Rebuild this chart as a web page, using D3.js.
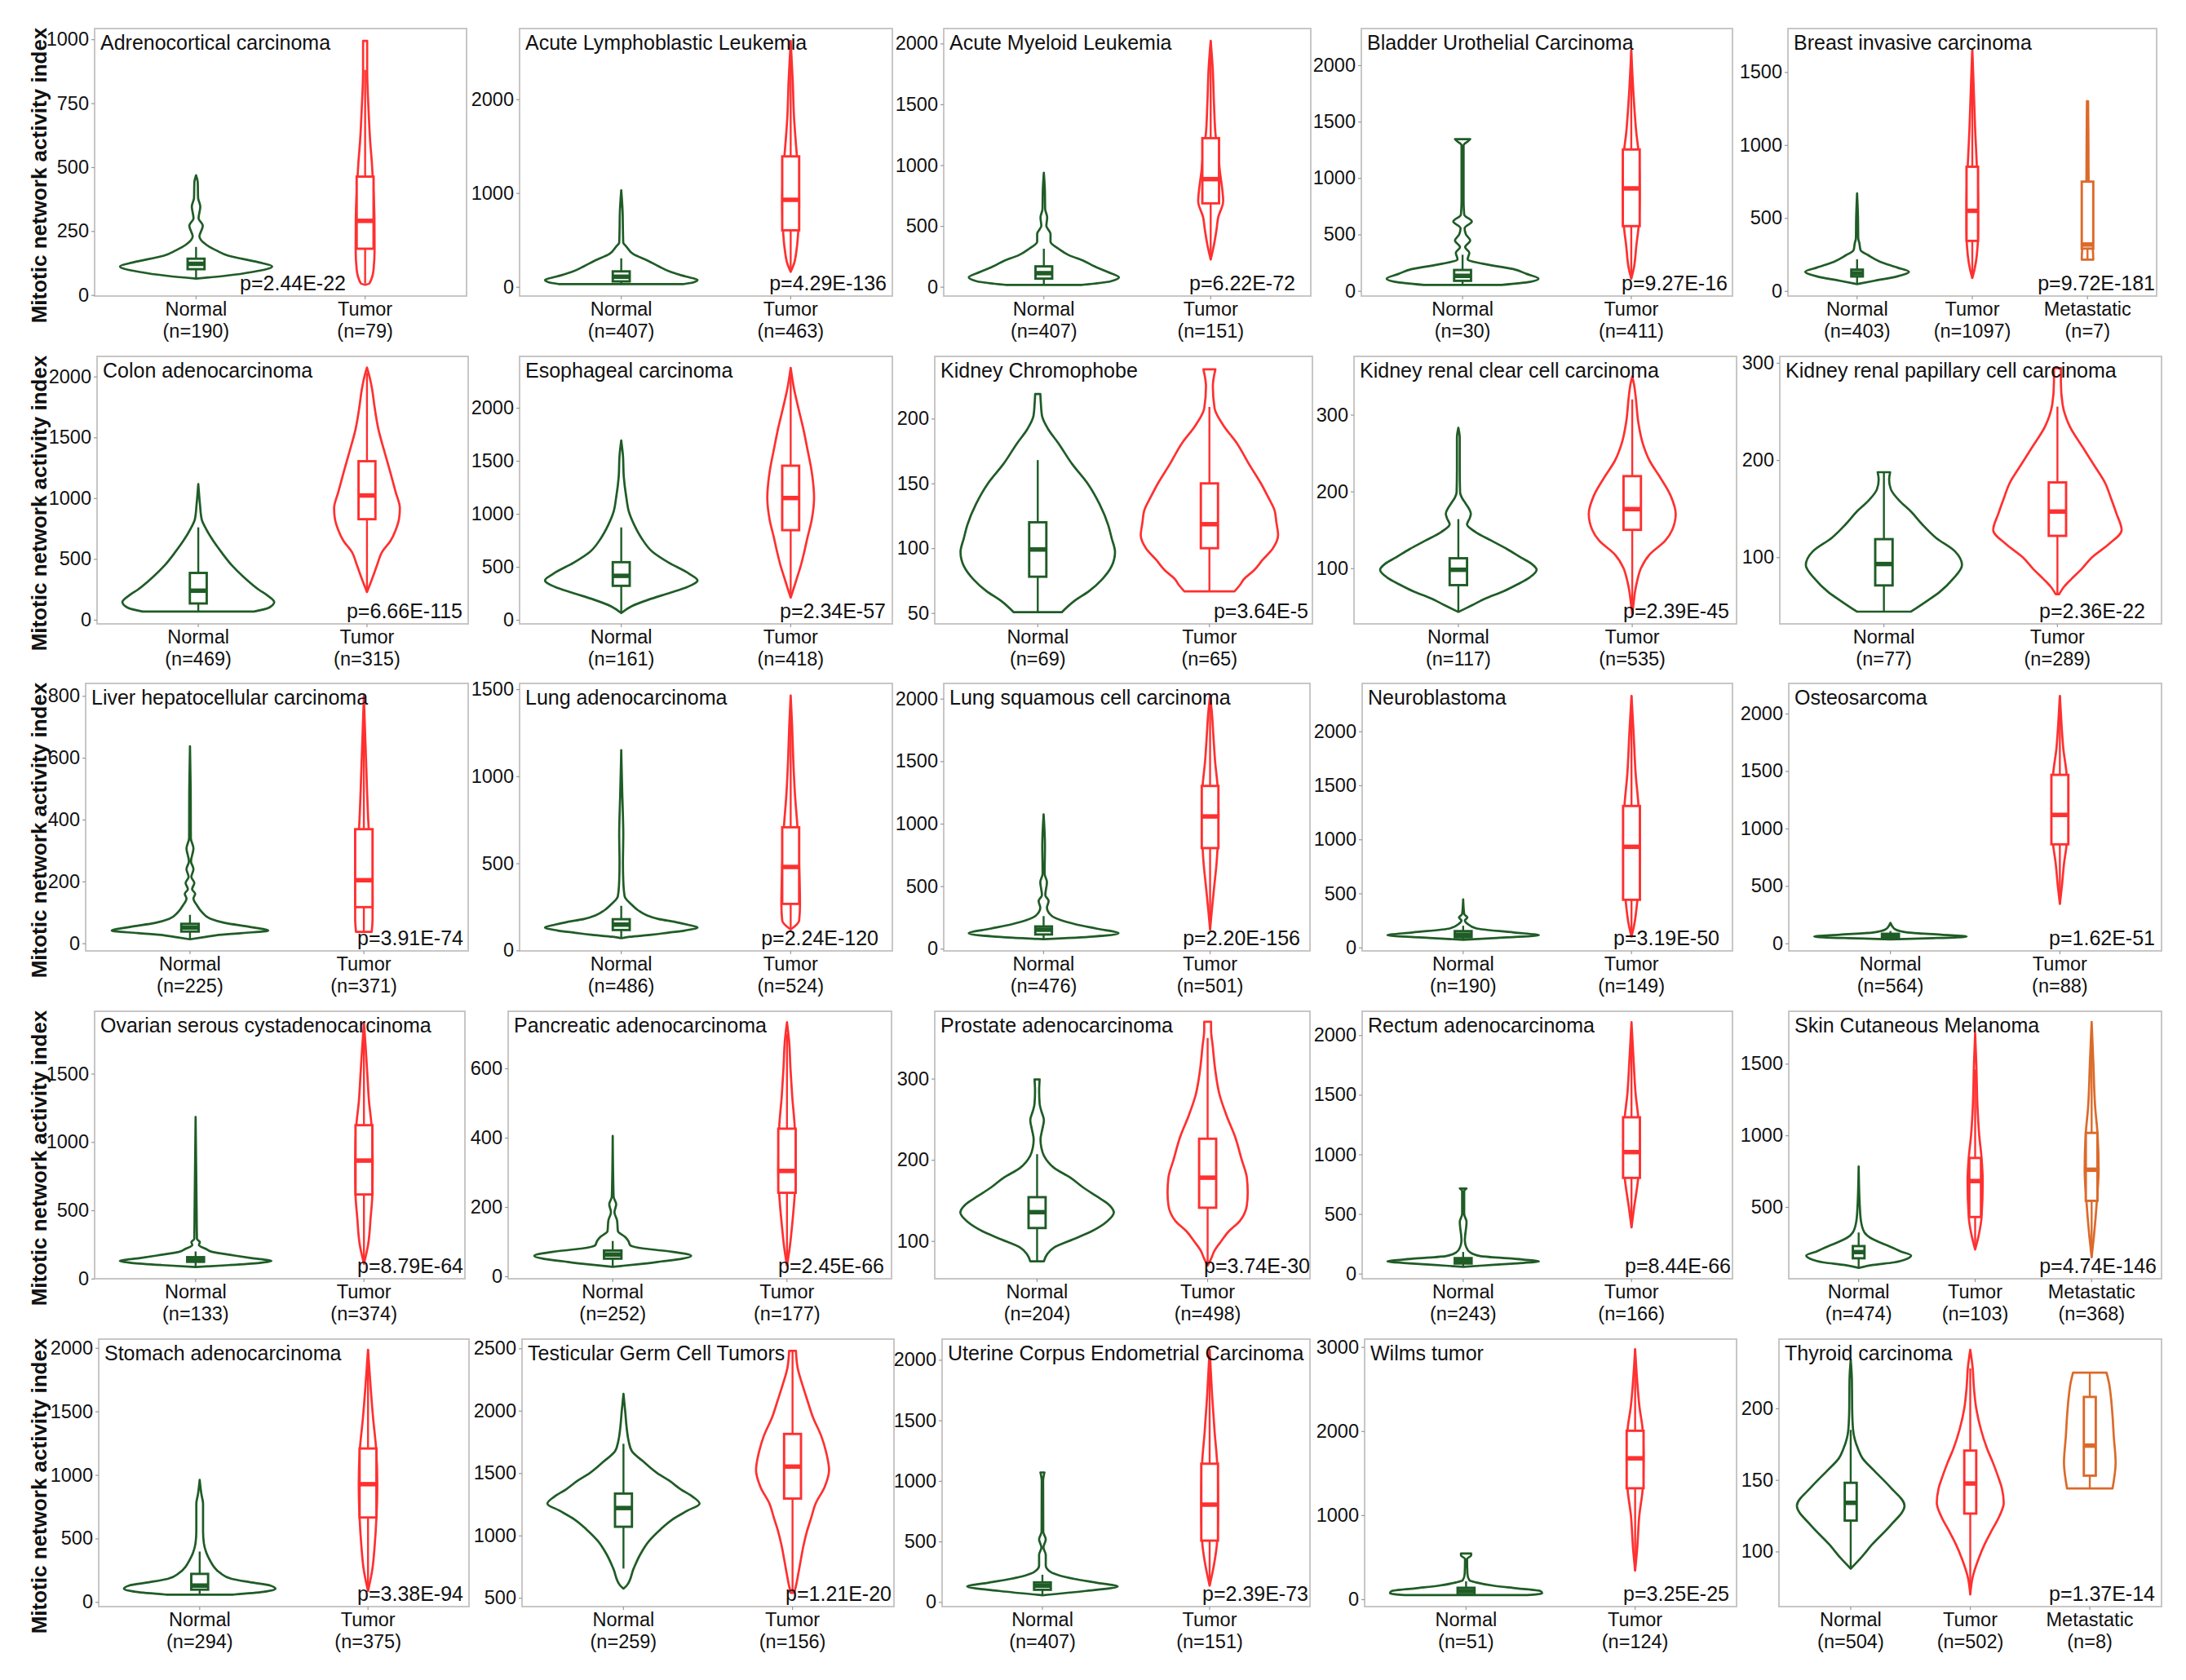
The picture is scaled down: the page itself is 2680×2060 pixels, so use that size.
<!DOCTYPE html>
<html><head><meta charset="utf-8">
<script src="https://cdn.jsdelivr.net/npm/d3@7"></script>
<style>body{margin:0;background:#fff}svg text{font-family:"Liberation Sans",Arial,sans-serif}</style>
</head><body>
<svg id="chart" width="2680" height="2060"></svg>
<script>
// ---------------- DATA ----------------
const panelTitles = [
  "Adrenocortical carcinoma","Acute Lymphoblastic Leukemia","Acute Myeloid Leukemia","Bladder Urothelial Carcinoma","Breast invasive carcinoma",
  "Colon adenocarcinoma","Esophageal carcinoma","Kidney Chromophobe","Kidney renal clear cell carcinoma","Kidney renal papillary cell carcinoma",
  "Liver hepatocellular carcinoma","Lung adenocarcinoma","Lung squamous cell carcinoma","Neuroblastoma","Osteosarcoma",
  "Ovarian serous cystadenocarcinoma","Pancreatic adenocarcinoma","Prostate adenocarcinoma","Rectum adenocarcinoma","Skin Cutaneous Melanoma",
  "Stomach adenocarcinoma","Testicular Germ Cell Tumors","Uterine Corpus Endometrial Carcinoma","Wilms tumor","Thyroid carcinoma"
];
const NT = ["Normal","Tumor"], NTM = ["Normal","Tumor","Metastatic"];
const groupNames = [NT,NT,NT,NT,NTM, NT,NT,NT,NT,NT, NT,NT,NT,NT,NT, NT,NT,NT,NT,NTM, NT,NT,NT,NT,NTM];
const groupSizes = [
  [190,79],[407,463],[407,151],[30,411],[403,1097,7],
  [469,315],[161,418],[69,65],[117,535],[77,289],
  [225,371],[486,524],[476,501],[190,149],[564,88],
  [133,374],[252,177],[204,498],[243,166],[474,103,368],
  [294,375],[259,156],[407,151],[51,124],[504,502,8]
];
const pValueLabels = [
  "p=2.44E-22","p=4.29E-136","p=6.22E-72","p=9.27E-16","p=9.72E-181",
  "p=6.66E-115","p=2.34E-57","p=3.64E-5","p=2.39E-45","p=2.36E-22",
  "p=3.91E-74","p=2.24E-120","p=2.20E-156","p=3.19E-50","p=1.62E-51",
  "p=8.79E-64","p=2.45E-66","p=3.74E-30","p=8.44E-66","p=4.74E-146",
  "p=3.38E-94","p=1.21E-20","p=2.39E-73","p=3.25E-25","p=1.37E-14"
];
const t5 = [0,500,1000,1500,2000];
const yTickValues = [
  [0,250,500,750,1000],[0,1000,2000],t5,t5,[0,500,1000,1500],
  t5,t5,[50,100,150,200],[100,200,300],[100,200,300],
  [0,200,400,600,800],[0,500,1000,1500],t5,t5,t5,
  [0,500,1000,1500],[0,200,400,600],[100,200,300],t5,[500,1000,1500],
  t5,[500,1000,1500,2000,2500],t5,[0,1000,2000,3000],[100,150,200]
];
const yAxisLimits = [
  [-4,1042],[-98,2754],[-76,2123],[-46,2325],[-35,1798],
  [-34,2166],[-38,2485],[41.6,248],[27.5,376],[31.4,306.7],
  [-24.6,840.4],[-3,1533],[-17.6,2122],[-32,2443],[-66,2263],
  [-1,1957],[-7,764.7],[53.5,383],[-43,2200],[-1,1866],
  [-36.5,2069],[430,2574],[-38,2171],[-87.6,3094],[61.5,248.4]
];
// violin outlines: [value, half-width in category units]
const violinProfiles = [
  [ [[64,0],[75,0.17],[91,0.34],[112,0.45],[128,0.37],[154,0.19],[175,0.118],[197,0.06],[229,0.02],[271,0.04],[300,0.015],[346,0.025],[380,0.012],[440,0.01],[468,0]],
    [[40,0],[45,0.025],[100,0.05],[180,0.056],[300,0.055],[460,0.045],[516,0.04],[600,0.03],[728,0.02],[880,0.012],[994,0.012]] ],
  [ [[30,0.37],[50,0.43],[73,0.45],[110,0.38],[160,0.29],[220,0.22],[276,0.16],[350,0.07],[430,0.03],[470,0.012],[600,0.01],[800,0.008],[1029,0]],
    [[160,0],[250,0.02],[400,0.035],[600,0.045],[900,0.05],[1200,0.045],[1500,0.032],[1800,0.02],[2200,0.012],[2623,0]] ],
  [ [[16,0.23],[45,0.4],[78,0.45],[123,0.38],[170,0.3],[213,0.24],[260,0.15],[313,0.088],[370,0.04],[436,0.04],[500,0.015],[570,0.02],[640,0.008],[800,0.006],[938,0]],
    [[224,0],[347,0.02],[470,0.035],[570,0.045],[704,0.075],[794,0.07],[950,0.055],[1100,0.045],[1240,0.03],[1500,0.02],[1800,0.012],[2021,0]] ],
  [ [[53,0.23],[80,0.4],[108,0.45],[150,0.38],[193,0.3],[240,0.12],[280,0.03],[337,0.04],[388,0.015],[446,0.045],[500,0.02],[555,0.012],[615,0.055],[675,0.01],[800,0.006],[1250,0.006],[1290,0.006],[1330,0.035],[1345,0.045]],
    [[108,0],[200,0.015],[400,0.03],[600,0.045],[900,0.05],[1200,0.045],[1400,0.03],[1700,0.015],[2133,0]] ],
  [ [[47,0],[70,0.15],[100,0.35],[131,0.45],[160,0.35],[200,0.2],[243,0.1],[280,0.03],[327,0.02],[360,0.01],[500,0.008],[668,0]],
    [[88,0],[150,0.02],[250,0.04],[400,0.05],[600,0.05],[850,0.04],[1100,0.025],[1400,0.012],[1659,0]],
    [[214,0.05],[300,0.045],[400,0.02],[700,0.01],[1000,0.008],[1300,0.005]] ],
  [ [[67,0.33],[100,0.42],[145,0.45],[200,0.41],[246,0.36],[350,0.27],[446,0.2],[550,0.14],[646,0.09],[750,0.045],[827,0.02],[950,0.01],[1116,0]],
    [[228,0],[335,0.03],[450,0.06],[559,0.09],[650,0.14],[738,0.17],[830,0.19],[916,0.195],[1050,0.17],[1230,0.135],[1400,0.1],[1565,0.068],[1750,0.045],[1900,0.03],[2000,0.015],[2074,0]] ],
  [ [[64,0],[128,0.06],[190,0.16],[256,0.29],[310,0.39],[372,0.45],[436,0.4],[540,0.28],[641,0.185],[770,0.12],[897,0.076],[1020,0.045],[1154,0.03],[1350,0.015],[1550,0.01],[1692,0]],
    [[210,0],[308,0.02],[410,0.04],[513,0.06],[640,0.08],[769,0.098],[950,0.125],[1154,0.138],[1300,0.132],[1408,0.123],[1600,0.1],[1792,0.076],[2000,0.045],[2177,0.02],[2377,0]] ],
  [ [[50.6,0.14],[59,0.21],[67,0.3],[76,0.375],[86,0.43],[97,0.45],[108,0.43],[118,0.41],[134,0.36],[150,0.29],[165,0.2],[181,0.12],[192,0.06],[202,0.025],[212,0.018],[219,0.015]],
    [[66.7,0.146],[72,0.18],[76,0.2],[83,0.26],[91,0.31],[100,0.37],[110,0.4],[120,0.39],[129,0.38],[140,0.34],[150,0.3],[165,0.23],[181,0.16],[195,0.08],[208,0.03],[225,0.02],[238,0.035]] ],
  [ [[43,0],[52,0.08],[61,0.16],[70,0.26],[79,0.34],[88,0.41],[98,0.45],[106,0.42],[114,0.36],[125,0.28],[136,0.19],[147,0.1],[157,0.05],[165,0.065],[171,0.072],[178,0.06],[185,0.04],[192,0.02],[199,0.01],[230,0.008],[270,0.008],[283,0]],
    [[40,0],[55,0.008],[68,0.015],[85,0.03],[100,0.05],[118,0.1],[136,0.19],[150,0.23],[171,0.25],[195,0.22],[220,0.156],[240,0.1],[263,0.06],[290,0.035],[323,0.02],[340,0.01],[350,0]] ],
  [ [[44,0.156],[54,0.24],[64,0.32],[78,0.4],[92,0.45],[106,0.41],[120,0.3],[134,0.22],[147,0.156],[158,0.09],[170,0.04],[180,0.03],[187.5,0.036]],
    [[62,0.01],[70,0.04],[77.5,0.08],[88,0.14],[100,0.2],[114,0.3],[128,0.37],[145,0.34],[160,0.31],[176,0.276],[195,0.21],[212,0.15],[235,0.07],[257,0.03],[280,0.02],[294.6,0.02]] ],
  [ [[13,0],[20,0.08],[26,0.15],[33,0.3],[41,0.45],[53,0.345],[66,0.2],[79,0.12],[100,0.07],[123,0.04],[145,0.02],[160,0.03],[175,0.012],[195,0.025],[215,0.008],[240,0.02],[265,0.006],[307,0.02],[340,0.005],[500,0.004],[637,0]],
    [[37,0.045],[80,0.05],[150,0.05],[250,0.04],[400,0.025],[600,0.012],[800,0]] ],
  [ [[70,0],[78,0.05],[90,0.18],[101,0.27],[115,0.38],[132,0.45],[148,0.39],[163,0.32],[180,0.22],[202,0.15],[230,0.1],[264,0.06],[311,0.02],[400,0.012],[500,0.01],[670,0.012],[770,0.01],[900,0.006],[1150,0]],
    [[120,0],[171,0.05],[267,0.055],[480,0.05],[707,0.04],[900,0.025],[1100,0.015],[1300,0.008],[1464,0]] ],
  [ [[76,0],[98,0.3],[124,0.45],[160,0.32],[196,0.19],[230,0.1],[261,0.05],[330,0.02],[380,0.03],[430,0.01],[533,0.02],[600,0.006],[820,0.008],[1075,0]],
    [[152,0],[300,0.01],[500,0.025],[700,0.04],[900,0.048],[1100,0.05],[1300,0.045],[1500,0.03],[1700,0.02],[1900,0.01],[2022,0]] ],
  [ [[71,0],[88,0.2],[113,0.45],[139,0.3],[176,0.08],[220,0.025],[250,0.01],[277,0.025],[310,0.006],[445,0]],
    [[101,0],[200,0.015],[441,0.035],[700,0.045],[931,0.048],[1300,0.042],[1600,0.025],[2000,0.012],[2328,0]] ],
  [ [[35,0],[45,0.25],[59,0.45],[75,0.3],[95,0.1],[120,0.03],[150,0.01],[178,0]],
    [[343,0],[500,0.012],[700,0.025],[862,0.04],[1118,0.048],[1467,0.04],[1700,0.02],[1900,0.01],[2154,0]] ],
  [ [[85,0],[99,0.2],[115,0.38],[129,0.45],[150,0.33],[169,0.23],[195,0.1],[218,0.06],[245,0.02],[268,0.025],[290,0.008],[500,0.006],[1183,0]],
    [[109,0],[250,0.025],[450,0.04],[616,0.05],[864,0.052],[1123,0.045],[1300,0.03],[1500,0.02],[1700,0.01],[1874,0]] ],
  [ [[27.5,0],[35,0.15],[43,0.28],[51,0.4],[59,0.45],[71,0.34],[80,0.18],[90,0.1],[102,0.09],[114,0.07],[130,0.03],[161,0.025],[185,0.01],[208,0.02],[230,0.005],[405,0]],
    [[31,0],[80,0.015],[150,0.03],[241,0.045],[304,0.05],[426,0.045],[520,0.03],[600,0.02],[680,0.012],[733,0]] ],
  [ [[75,0.04],[84,0.06],[92,0.1],[102,0.21],[112,0.32],[124,0.41],[135,0.45],[145,0.42],[155,0.35],[166,0.27],[178,0.196],[190,0.1],[205,0.04],[215,0.025],[225,0.02],[237,0.03],[249,0.04],[260,0.025],[269,0.015],[285,0.012],[299,0.015]],
    [[69.8,0],[78,0.02],[88,0.04],[100,0.08],[111,0.12],[125,0.19],[144,0.23],[160,0.235],[178,0.23],[200,0.2],[229,0.16],[255,0.11],[280,0.07],[310,0.045],[340,0.03],[360,0.02],[370,0.02]] ],
  [ [[57,0],[68,0.12],[85,0.3],[102,0.45],[125,0.3],[148,0.1],[180,0.04],[217,0.02],[280,0.01],[434,0.02],[500,0.006],[690,0.006],[714,0.02]],
    [[388,0],[550,0.015],[803,0.04],[1019,0.048],[1311,0.04],[1500,0.025],[1800,0.012],[2109,0]] ],
  [ [[75,0],[95,0.12],[113,0.3],[140,0.42],[161,0.45],[190,0.36],[220,0.28],[247,0.2],[285,0.1],[322,0.05],[400,0.02],[500,0.01],[783,0]],
    [[203,0],[300,0.03],[430,0.055],[681,0.065],[842,0.055],[1000,0.035],[1200,0.02],[1500,0.01],[1712,0]],
    [[149,0],[300,0.02],[543,0.045],[760,0.06],[1017,0.05],[1200,0.03],[1500,0.015],[1791,0]] ],
  [ [[58,0.2],[80,0.38],[103,0.45],[129,0.42],[155,0.3],[182,0.19],[230,0.12],[279,0.083],[330,0.06],[386,0.04],[460,0.025],[558,0.02],[680,0.02],[773,0.02],[850,0.01],[961,0]],
    [[86,0],[250,0.025],[450,0.04],[665,0.05],[927,0.055],[1208,0.048],[1450,0.03],[1700,0.015],[1985,0]] ],
  [ [[574,0],[600,0.02],[735,0.06],[850,0.1],[954,0.15],[1050,0.22],[1129,0.29],[1200,0.38],[1256,0.45],[1310,0.41],[1369,0.34],[1440,0.27],[1500,0.2],[1590,0.12],[1675,0.05],[1760,0.03],[1850,0.02],[2000,0.01],[2135,0]],
    [[540,0.01],[594,0.02],[700,0.035],[813,0.05],[920,0.065],[1032,0.085],[1140,0.11],[1251,0.135],[1390,0.19],[1524,0.216],[1660,0.2],[1797,0.17],[1950,0.12],[2082,0.088],[2200,0.06],[2345,0.03],[2480,0.02]] ],
  [ [[56,0],[90,0.25],[128,0.45],[160,0.32],[191,0.19],[220,0.1],[247,0.05],[300,0.02],[390,0.02],[450,0.006],[518,0.02],[580,0.005],[1000,0.004],[1070,0.012]],
    [[135,0],[300,0.025],[507,0.045],[804,0.05],[1142,0.045],[1400,0.03],[1700,0.015],[2083,0]] ],
  [ [[49,0.36],[71,0.45],[97,0.44],[130,0.3],[162,0.16],[200,0.06],[226,0.02],[300,0.008],[480,0.006],[520,0.03],[545,0.03]],
    [[341,0],[600,0.012],[1000,0.025],[1320,0.045],[1676,0.05],[2004,0.045],[2300,0.025],[2600,0.012],[2975,0]] ],
  [ [[88,0],[95,0.08],[105,0.18],[118,0.33],[132,0.45],[145,0.33],[157,0.19],[165,0.1],[172,0.06],[185,0.02],[200,0.012],[220,0.01],[234,0]],
    [[70,0],[82,0.02],[95,0.07],[105,0.12],[114,0.175],[124,0.24],[134,0.28],[144,0.265],[153,0.23],[162,0.19],[172,0.14],[185,0.09],[200,0.05],[215,0.03],[228.4,0.02],[241,0]],
    [[144,0.19],[149,0.2],[162,0.216],[181,0.2],[195,0.19],[209,0.175],[218,0.16],[225,0.14]] ]
];
// box plots: [lower whisker, Q1, median, Q3, upper whisker]
const boxStats = [
  [[64,101,122,142,188],[45,181,290,463,880]],
  [[30,58,108,165,304],[160,603,928,1391,2550]],
  [[16,67,112,168,313],[224,686,885,1222,2021]],
  [[53,89,133,185,320],[108,574,908,1253,2133]],
  [[47,99,121,146,217],[88,343,549,851,1600],[214,290,318,749,1300]],
  [[67,134,239,385,760],[228,827,1022,1304,2030]],
  [[64,321,415,544,872],[210,846,1149,1454,2300]],
  [[50.6,78,99,120,168],[66.7,100,118.5,150,209]],
  [[43,78,98,113,164],[40,150,177,220,320]],
  [[44,71,93,118.6,187],[62,122,147,177,255]],
  [[13,38,51,63,92],[37,117,204,369,740]],
  [[70,117,148,179,256],[120,267,479,707,1370]],
  [[76,114,152,178,261],[152,805,1058,1302,2000]],
  [[71,94,118,151,201],[101,441,931,1309,2328]],
  [[35,42,62,83,107],[343,862,1118,1467,2154]],
  [[85,123,143,157,199],[109,616,864,1123,1800]],
  [[27.5,51,63,74.5,102],[31,241,304,426,700]],
  [[75,116,135.5,154,207],[69.8,141,178,226,350]],
  [[57,85,107,130,182],[388,803,1019,1311,2050]],
  [[75,142,185,227,322],[203,430,681,842,1460],[149,543,760,1017,1730]],
  [[58,97,129,221,397],[86,665,927,1208,1985]],
  [[735,1070,1220,1336,1735],[540,1296,1552,1814,2480]],
  [[56,101,135,162,225],[135,507,804,1142,2083]],
  [[49,58,97,136,213],[341,1320,1676,2004,2975]],
  [[89,121.6,134,148,185],[70,126.5,147.5,170.5,228],[144,153,174,208,225]]
];
const yAxisTitle = "Mitotic network activity index";

// ---------------- LAYOUT / STYLE ----------------
const rowTops = [35, 437, 838, 1240, 1642];
const panelHeight = 328;
const panelLefts = [[116,637,1157,1669,2192],[119,637,1146,1660,2182],[105,637,1157,1670,2193],[116,623,1146,1670,2193],[121,640,1155,1673,2181]];
const panelRights = [[572,1094,1607,2124,2644],[574,1094,1609,2129,2650],[574,1094,1606,2124,2650],[570,1093,1606,2124,2650],[575,1096,1606,2129,2650]];
const pLabelInsets = [148,7,19,6,2, 7,8,5,9,20, 6,17,12,16,8, 2,9,0,2,6, 7,3,2,9,8];
const groupColors = {Normal:"#1f5c26", Tumor:"#ff3030", Metastatic:"#dc6a2a"};

const svg = d3.select("#chart");
svg.append("rect").attr("width",2680).attr("height",2060).attr("fill","#fff");

panelTitles.forEach((title, i) => {
  const r = Math.floor(i / 5), c = i % 5;
  const left = panelLefts[r][c], right = panelRights[r][c];
  const top = rowTops[r], bottom = top + panelHeight;
  const groups = groupNames[i];
  const x = d3.scalePoint().domain(groups).range([left, right]).padding(0.6);
  const unit = x.step();
  const y = d3.scaleLinear().domain(yAxisLimits[i]).range([bottom, top]);
  const g = svg.append("g");

  // panel background & border
  g.append("rect").attr("x", left).attr("y", top).attr("width", right - left).attr("height", panelHeight)
    .attr("fill", "#fff").attr("stroke", "#c4c0c0").attr("stroke-width", 1.8);

  // y axis
  const ya = g.append("g").attr("transform", `translate(${left},0)`)
    .call(d3.axisLeft(y).tickValues(yTickValues[i]).tickSize(4).tickPadding(3).tickFormat(d3.format("d")));
  ya.select(".domain").remove();
  ya.selectAll(".tick line").attr("stroke", "#999").attr("stroke-width", 1.2);
  ya.selectAll(".tick text").attr("font-size", 23.5).attr("fill", "#111")
    .attr("font-family", "'Liberation Sans', Arial, sans-serif");

  // x axis labels
  groups.forEach((name, k) => {
    const cx = x(name);
    g.append("line").attr("x1", cx).attr("x2", cx).attr("y1", bottom).attr("y2", bottom + 4)
      .attr("stroke", "#999").attr("stroke-width", 1.2);
    g.append("text").attr("x", cx).attr("y", bottom + 24).attr("text-anchor", "middle")
      .attr("font-size", 23.5).attr("fill", "#111").text(name);
    g.append("text").attr("x", cx).attr("y", bottom + 51).attr("text-anchor", "middle")
      .attr("font-size", 23.5).attr("fill", "#111").text(`(n=${groupSizes[i][k]})`);
  });

  // violins and boxes
  groups.forEach((name, k) => {
    const cx = x(name), col = groupColors[name];
    const prof = violinProfiles[i][k];
    const area = d3.area()
      .y(d => y(d[0]))
      .x0(d => cx - d[1] * unit)
      .x1(d => cx + d[1] * unit)
      .curve(d3.curveMonotoneY);
    g.append("path").attr("d", area(prof)).attr("fill", "none")
      .attr("stroke", col).attr("stroke-width", 2.7).attr("stroke-linejoin", "round");
    const [lo, q1, med, q3, hi] = boxStats[i][k];
    const hw = 0.05 * unit;
    g.append("line").attr("x1", cx).attr("x2", cx).attr("y1", y(lo)).attr("y2", y(q1))
      .attr("stroke", col).attr("stroke-width", 2.4);
    g.append("line").attr("x1", cx).attr("x2", cx).attr("y1", y(q3)).attr("y2", y(hi))
      .attr("stroke", col).attr("stroke-width", 2.4);
    g.append("rect").attr("x", cx - hw).attr("y", y(q3)).attr("width", 2 * hw).attr("height", y(q1) - y(q3))
      .attr("fill", "#fff").attr("stroke", col).attr("stroke-width", 2.9);
    g.append("line").attr("x1", cx - hw).attr("x2", cx + hw).attr("y1", y(med)).attr("y2", y(med))
      .attr("stroke", col).attr("stroke-width", 5.5);
  });

  // title
  g.append("text").attr("x", left + 7).attr("y", top + 26).attr("font-size", 25).attr("fill", "#111").text(title);
  // p value
  g.append("text").attr("x", right - pLabelInsets[i]).attr("y", bottom - 7).attr("text-anchor", "end")
    .attr("font-size", 25).attr("fill", "#111").text(pValueLabels[i]);

  // row y-axis title
  if (c === 0) {
    const cy = (top + bottom) / 2 + 16;
    svg.append("text").attr("transform", `translate(57,${cy}) rotate(-90)`).attr("text-anchor", "middle")
      .attr("font-size", 26).attr("font-weight", "bold").attr("fill", "#111").text(yAxisTitle);
  }
});
</script>
</body></html>
